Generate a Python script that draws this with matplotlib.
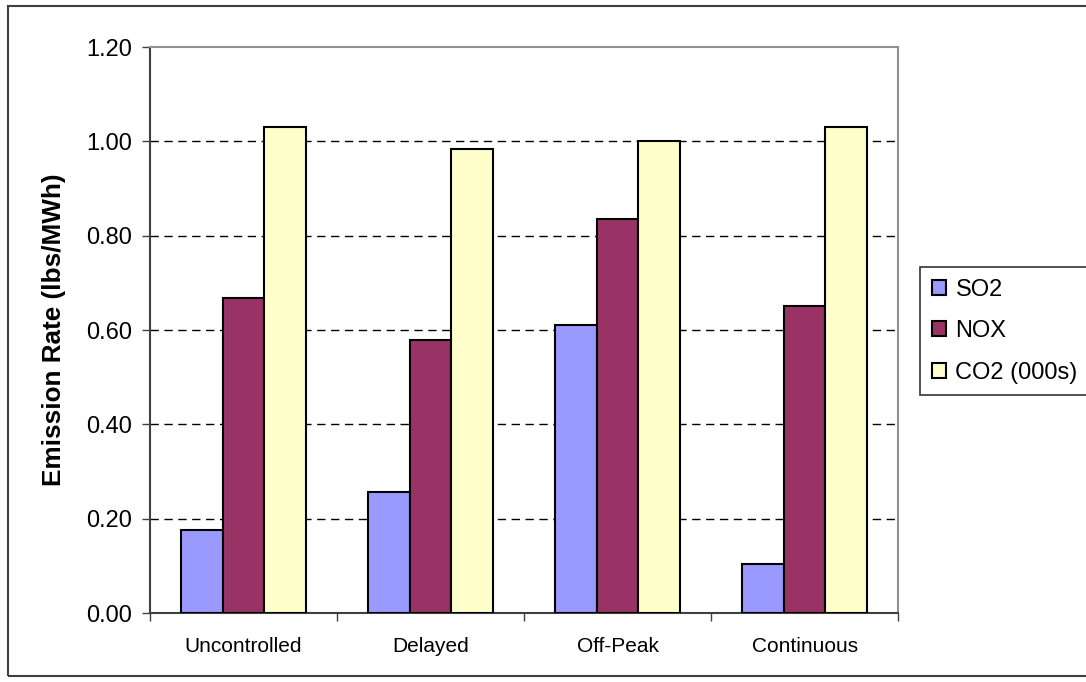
import matplotlib
matplotlib.use("Agg")
import matplotlib.pyplot as plt
import numpy as np
from matplotlib.patches import Rectangle

### data
categories = ["Uncontrolled", "Delayed", "Off-Peak", "Continuous"]
series_names = ["SO2", "NOX", "CO2 (000s)"]
so2 = [0.177, 0.257, 0.610, 0.105]
nox = [0.668, 0.579, 0.835, 0.652]
co2 = [1.030, 0.983, 1.000, 1.030]
colors = ["#9999FF", "#993366", "#FFFFCC"]
y_ticks = [0.0, 0.2, 0.4, 0.6, 0.8, 1.0, 1.2]

plt.rcParams["font.family"] = ["Liberation Sans", "DejaVu Sans"]


def main():
    fig = plt.figure(figsize=(10.86, 6.82), dpi=100)
    fig.patch.set_facecolor("#fff")
    ax = fig.add_axes([0.138, 0.101, 0.689, 0.830])

    x = np.arange(len(categories))
    width = 1 / 4.5  # excel gap width 150%
    for i, (vals, name) in enumerate(zip([so2, nox, co2], series_names)):
        ax.bar(x + (i - 1) * width, vals, width, color=colors[i], edgecolor="black",
               linewidth=1.5, label=name, zorder=3)

    ax.set_xlim(-0.5, len(categories) - 0.5)
    ax.set_ylim(0, 1.2)
    ax.set_yticks(y_ticks)
    ax.set_yticklabels([f"{v:.2f}" for v in y_ticks], fontsize=17)
    ax.tick_params(axis="y", direction="out", length=6, width=1, pad=7, color="#404040")

    # category boundary ticks, labels centred in between
    ax.set_xticks(np.arange(len(categories) + 1) - 0.5)
    ax.set_xticklabels([""] * (len(categories) + 1))
    ax.tick_params(axis="x", which="major", direction="out", length=6, width=1, color="#404040")
    ax.set_xticks(x, minor=True)
    ax.set_xticklabels(categories, minor=True, fontsize=15)
    ax.tick_params(axis="x", which="minor", length=0, pad=17)

    ax.set_ylabel("Emission Rate (lbs/MWh)", fontsize=18.8, fontweight="bold", labelpad=14)

    for g in y_ticks[1:-1]:
        ax.axhline(g, color="black", linewidth=1, linestyle=(0, (6, 4)), zorder=1)

    ax.spines["left"].set_color("#404040")
    ax.spines["bottom"].set_color("#404040")
    ax.spines["top"].set_color("#909090")
    ax.spines["right"].set_color("#909090")
    for s in ax.spines.values():
        s.set_linewidth(1.5)

    leg = fig.legend(loc="upper left", bbox_to_anchor=(920 / 1086, 1 - 267 / 682),
                     fontsize=17, frameon=True, fancybox=False, edgecolor="black",
                     handlelength=0.6, handleheight=0.6, handletextpad=0.4,
                     labelspacing=0.82, borderpad=0.5, borderaxespad=0)
    leg.get_frame().set_linewidth(1.2)

    # outer chart frame
    fig.patches.append(Rectangle((8 / 1086, 6 / 682), 1.1, 670 / 682, transform=fig.transFigure,
                                 fill=False, edgecolor="#404040", linewidth=1.5))

    fig.savefig("out.png", dpi=100)


if __name__ == "__main__":
    main()
